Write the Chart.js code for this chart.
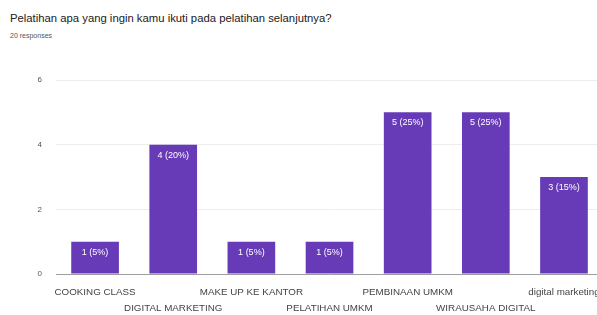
<!DOCTYPE html>
<html><head><meta charset="utf-8">
<script src="https://cdn.jsdelivr.net/npm/chart.js@4"></script>
<style>
html,body{margin:0;padding:0;background:#fff;overflow:hidden;width:597px;height:315px;}
#t{position:absolute;left:10px;top:12px;font:11.3px "Liberation Sans",Arial,sans-serif;color:#202124;white-space:nowrap;}
#s{position:absolute;left:10px;top:32px;font:7px "Liberation Sans",Arial,sans-serif;color:#555;white-space:nowrap;}
#w{position:absolute;left:0;top:0;width:610px;height:315px;}
</style></head><body>
<div id="t">Pelatihan apa yang ingin kamu ikuti pada pelatihan selanjutnya?</div>
<div id="s">20 responses</div>
<div id="w"><canvas id="c"></canvas></div>
<script>
const categories = ["COOKING CLASS","DIGITAL MARKETING","MAKE UP KE KANTOR","PELATIHAN UMKM","PEMBINAAN UMKM","WIRAUSAHA DIGITAL","digital marketing"];
const counts = [1,4,1,1,5,5,3];
const valueLabels = ["1 (5%)","4 (20%)","1 (5%)","1 (5%)","5 (25%)","5 (25%)","3 (15%)"];
const yTicks = [0,2,4,6];

const labelPlugin = {
  id:'barLabels',
  afterDatasetsDraw(chart){
    const ctx = chart.ctx;
    const meta = chart.getDatasetMeta(0);
    ctx.save();
    ctx.fillStyle = '#fff';
    ctx.font = '9px "Liberation Sans", Arial, sans-serif';
    ctx.textAlign = 'center';
    ctx.textBaseline = 'top';
    meta.data.forEach((el,i)=>{
      ctx.fillText(valueLabels[i], el.x, el.y + 6);
    });
    ctx.restore();
  }
};

new Chart(document.getElementById('c'), {
  type:'bar',
  data:{
    labels: categories.map((c,i)=> i%2===0 ? c : ['', c]),
    datasets:[{data:counts, backgroundColor:'#673ab7', borderWidth:0,
      categoryPercentage:1, barPercentage:0.61}]
  },
  options:{
    responsive:true, maintainAspectRatio:false, animation:false,
    layout:{padding:{top:80,right:5,left:0,bottom:0}},
    plugins:{legend:{display:false}, tooltip:{enabled:false}},
    scales:{
      x:{
        grid:{display:false, drawTicks:false},
        border:{display:false},
        ticks:{color:'#444', font:{size:9.8, family:'"Liberation Sans", Arial, sans-serif', lineHeight:1.65},
          maxRotation:0, minRotation:0, autoSkip:false, padding:10},
        afterFit(s){ s.height = 41; }
      },
      y:{
        min:0, max:6,
        grid:{color:(c)=> c.tick && c.tick.value===0 ? '#9e9e9e' : '#ededed', drawTicks:false},
        border:{display:false},
        afterBuildTicks(s){ s.ticks = yTicks.map(v=>({value:v})); },
        ticks:{color:'#555', font:{size:8, family:'"Liberation Sans", Arial, sans-serif'}, padding:14},
        afterFit(s){ s.width = 56; }
      }
    }
  },
  plugins:[labelPlugin]
});
</script>
</body></html>
